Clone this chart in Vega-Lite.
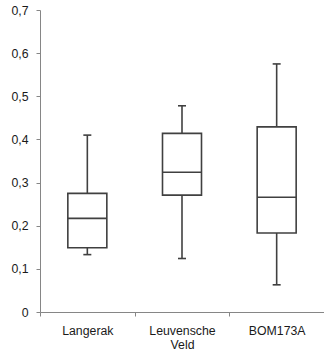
{
  "$schema": "https://vega.github.io/schema/vega-lite/v6.json",
  "autosize": "none",
  "width": 284,
  "height": 302,
  "padding": {"left": 40, "top": 10, "right": 0, "bottom": 39},
  "background": "white",
  "config": {
    "view": {"stroke": null},
    "font": "Liberation Sans",
    "axis": {"labelFont": "Liberation Sans", "labelFontSize": 12.3, "labelColor": "#1a1a1a", "domainColor": "#868686", "tickColor": "#868686", "grid": false, "title": null}
  },
  "data": {
    "values": [
      {"cat": "Langerak", "lo": 0.133, "q1": 0.149, "med": 0.217, "q3": 0.275, "hi": 0.410},
      {"cat": "Leuvensche Veld", "lo": 0.124, "q1": 0.271, "med": 0.324, "q3": 0.414, "hi": 0.478},
      {"cat": "BOM173A", "lo": 0.063, "q1": 0.183, "med": 0.266, "q3": 0.429, "hi": 0.575}
    ]
  },
  "encoding": {
    "x": {
      "field": "cat", "type": "nominal", "sort": null, "title": null,
      "scale": {"paddingInner": 0, "paddingOuter": 0},
      "axis": {
        "labelAngle": 0, "tickBand": "extent", "tickSize": 4, "labelPadding": 8,
        "labelLineHeight": 14.5,
        "labelExpr": "datum.value == 'Leuvensche Veld' ? ['Leuvensche', 'Veld'] : datum.value"
      }
    }
  },
  "layer": [
    {
      "mark": {"type": "rule", "color": "#404040", "strokeWidth": 1.6},
      "encoding": {
        "y": {"field": "lo", "type": "quantitative", "scale": {"domain": [0, 0.7], "nice": false},
          "axis": {"values": [0, 0.1, 0.2, 0.3, 0.4, 0.5, 0.6, 0.7], "tickSize": 4, "labelPadding": 8,
            "labelExpr": "replace(format(datum.value, '.1~f'), '.', ',')"}},
        "y2": {"field": "hi"}
      }
    },
    {
      "mark": {"type": "bar", "fill": "white", "stroke": "#404040", "strokeWidth": 1.6, "size": 39},
      "encoding": {
        "y": {"field": "q1", "type": "quantitative"},
        "y2": {"field": "q3"}
      }
    },
    {
      "mark": {"type": "tick", "color": "#404040", "opacity": 1, "size": 39, "thickness": 1.6},
      "encoding": {"y": {"field": "med", "type": "quantitative"}}
    },
    {
      "mark": {"type": "tick", "color": "#404040", "opacity": 1, "size": 8, "thickness": 1.6},
      "encoding": {"y": {"field": "lo", "type": "quantitative"}}
    },
    {
      "mark": {"type": "tick", "color": "#404040", "opacity": 1, "size": 8, "thickness": 1.6},
      "encoding": {"y": {"field": "hi", "type": "quantitative"}}
    }
  ]
}
